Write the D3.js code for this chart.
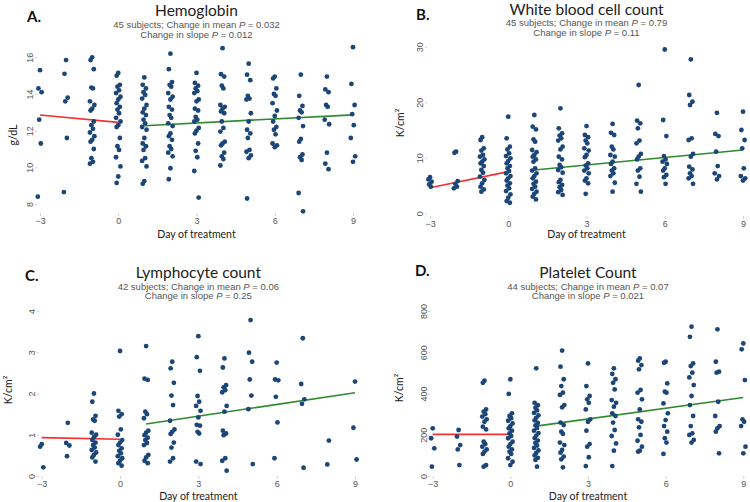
<!DOCTYPE html>
<html>
<head>
<meta charset="utf-8">
<script src="https://cdn.jsdelivr.net/npm/d3@7"></script>
<style>
  body { margin: 0; background: #fff; }
  svg { display: block; }
  .tick text { font-family: "Liberation Sans", Arial, sans-serif; font-size: 9px; fill: #555; }
  .tick line { stroke: #d0d0d0; }
</style>
</head>
<body>
<div id="chart"></div>
<script>
// Days on the x-axis, one column of dots per day
var days = [-3, -2, -1, 0, 1, 2, 3, 4, 5, 6, 7, 8, 9];
var dayTicks = [-3, 0, 3, 6, 9];

// Values per day
var hemoglobin = [
    [15.3, 14.3, 14.1, 12.6, 11.3, 8.4],
    [15.85, 15.1, 13.8, 13.6, 11.6, 8.65],
    [16.0, 15.85, 15.35, 14.35, 14.3, 13.6, 13.4, 13.2, 13.1, 12.5, 12.3, 12.1, 11.9, 11.7, 11.5, 11.4, 11.0, 10.5, 10.3, 10.2],
    [15.15, 15.0, 14.5, 14.4, 14.2, 14.05, 13.85, 13.7, 13.5, 13.3, 13.15, 12.95, 12.7, 12.5, 12.3, 12.2, 11.6, 11.15, 10.95, 10.55, 10.05, 9.5, 9.15],
    [14.9, 14.5, 14.3, 14.1, 13.95, 13.75, 13.4, 13.2, 13.0, 12.85, 12.6, 12.4, 12.2, 12.05, 11.6, 11.3, 11.15, 10.95, 10.5, 10.35, 10.05, 9.25, 9.1],
    [16.2, 15.35, 14.65, 14.5, 14.4, 14.05, 13.85, 13.7, 13.3, 13.15, 12.85, 12.7, 12.4, 12.25, 11.85, 11.7, 11.5, 11.15, 11.0, 10.8, 10.6, 9.95, 9.35],
    [15.15, 14.6, 14.45, 14.3, 14.15, 14.05, 13.7, 13.6, 13.2, 13.1, 12.75, 12.6, 12.5, 12.15, 12.0, 11.85, 11.3, 10.9, 10.55, 9.8, 8.35],
    [16.5, 15.08, 14.95, 14.45, 14.3, 13.4, 13.3, 13.2, 13.05, 12.95, 12.5, 12.15, 11.95, 11.4, 11.3, 11.2, 10.8, 10.6, 10.45, 10.1],
    [15.65, 15.05, 14.75, 13.9, 13.75, 13.7, 12.95, 12.5, 12.05, 11.85, 11.6, 10.95, 10.85, 10.65, 10.5, 8.3],
    [14.95, 14.85, 14.3, 14.0, 13.9, 13.5, 13.1, 12.8, 12.5, 12.2, 12.05, 11.8, 11.3, 11.2, 11.1],
    [15.05, 13.9, 13.35, 13.1, 13.0, 12.7, 12.25, 11.55, 11.4, 10.7, 10.55, 10.4, 8.6, 7.6],
    [14.95, 14.25, 14.1, 13.4, 13.3, 12.6, 12.35, 10.8, 10.2, 9.9],
    [16.55, 14.55, 13.4, 12.9, 12.3, 11.6, 10.6, 10.3]
];

var whiteCells = [
    [6.5, 6.1, 5.7, 5.2, 4.8],
    [11.1, 10.9, 5.8, 5.3, 4.8, 4.5],
    [13.7, 13.2, 11.7, 11.3, 10.5, 10.2, 9.7, 9.3, 9.0, 8.5, 7.8, 7.3, 6.6, 6.0, 5.4, 4.8, 4.3, 3.9],
    [17.4, 13.5, 12.0, 11.5, 10.8, 10.3, 9.9, 9.4, 9.0, 8.5, 8.1, 7.6, 7.2, 6.7, 6.3, 5.9, 5.4, 5.0, 4.5, 4.0, 3.4, 2.8, 2.2, 1.9],
    [17.7, 15.6, 15.1, 13.3, 12.9, 11.4, 11.0, 10.5, 10.2, 9.7, 9.3, 8.1, 7.7, 7.2, 6.7, 6.3, 5.7, 5.3, 4.8, 4.4, 3.9, 3.5, 3.0, 2.5],
    [18.9, 15.3, 14.4, 14.0, 13.5, 13.1, 12.0, 11.5, 10.2, 9.7, 8.7, 8.3, 7.8, 7.3, 6.0, 5.6, 5.1, 4.7, 4.2, 3.8, 3.3],
    [15.7, 14.1, 13.7, 13.1, 12.6, 11.7, 11.3, 10.5, 10.1, 9.0, 8.6, 8.1, 7.7, 7.2, 6.3, 5.9, 5.4, 3.5],
    [16.1, 14.5, 14.1, 12.0, 11.5, 10.5, 10.2, 9.3, 8.9, 8.1, 7.7, 7.2, 6.7, 5.5, 3.9],
    [23.1, 16.7, 16.2, 15.3, 13.1, 12.6, 10.7, 10.2, 9.7, 8.1, 7.7, 6.6, 5.3, 3.9],
    [29.5, 16.8, 13.9, 10.3, 9.7, 9.3, 8.9, 8.1, 7.7, 6.9, 6.5, 5.3],
    [27.7, 21.3, 20.1, 19.5, 13.5, 13.2, 10.7, 10.2, 8.4, 7.9, 7.2, 6.7, 6.3, 5.3],
    [18.1, 14.3, 13.9, 11.1, 8.5, 7.2, 6.7, 6.1],
    [18.3, 15.0, 13.2, 11.7, 8.1, 6.7, 6.3, 5.9]
];

var lymphocytes = [
    [0.77, 0.71, 0.21],
    [1.29, 0.8, 0.74, 0.48],
    [2.0, 1.8, 1.46, 1.37, 1.34, 1.05, 1.0, 0.94, 0.87, 0.81, 0.75, 0.69, 0.63, 0.57, 0.51, 0.45, 0.35],
    [3.03, 1.58, 1.5, 1.44, 1.13, 1.0, 0.87, 0.81, 0.75, 0.67, 0.61, 0.55, 0.48, 0.43, 0.37, 0.31, 0.25],
    [3.15, 2.36, 2.33, 1.56, 1.5, 1.4, 1.1, 1.05, 0.99, 0.93, 0.87, 0.8, 0.75, 0.51, 0.45, 0.37, 0.31],
    [2.77, 2.61, 2.26, 1.95, 1.72, 1.34, 1.13, 1.07, 1.02, 0.81, 0.69, 0.43, 0.35],
    [3.39, 2.88, 2.55, 1.94, 1.8, 1.7, 1.58, 1.42, 1.24, 1.22, 1.07, 1.03, 0.35, 0.29],
    [2.85, 2.63, 2.2, 2.15, 2.08, 2.03, 1.7, 1.56, 1.1, 1.03, 0.99, 0.43, 0.37, 0.13],
    [3.78, 2.99, 2.77, 2.34, 1.95, 1.62, 0.29],
    [2.75, 2.34, 2.32, 1.92, 1.3, 0.43],
    [3.34, 2.23, 1.86, 1.75, 0.2],
    [0.86, 0.28],
    [2.29, 1.17, 0.4]
];

var platelets = [
    [231, 183, 134, 45],
    [223, 191, 150, 129, 53],
    [462, 452, 323, 312, 300, 288, 275, 263, 239, 226, 166, 155, 142, 129, 118, 107, 53, 45],
    [469, 398, 304, 291, 280, 268, 255, 242, 231, 220, 207, 194, 183, 166, 155, 142, 129, 118, 107, 86, 69, 53],
    [522, 355, 343, 331, 318, 306, 294, 282, 270, 257, 245, 233, 220, 208, 196, 184, 172, 160, 148, 136, 124, 112, 100, 88, 78, 45],
    [608, 530, 469, 436, 404, 393, 344, 333, 259, 247, 215, 204, 162, 150, 126, 113, 94, 81, 42],
    [546, 436, 388, 372, 355, 323, 275, 263, 220, 155, 142, 91, 48],
    [522, 495, 469, 452, 420, 368, 355, 336, 304, 291, 259, 223, 194, 158, 123, 48],
    [570, 559, 538, 517, 417, 404, 372, 323, 275, 263, 236, 199, 171, 142, 123, 118],
    [554, 549, 449, 409, 404, 352, 304, 271, 242, 215, 183, 162, 107],
    [724, 675, 546, 533, 501, 478, 441, 388, 344, 291, 242, 207, 199, 175, 162],
    [711, 554, 506, 501, 360, 291, 242, 231, 215, 110],
    [643, 614, 465, 275, 263, 242, 142, 110]
];

// Fitted lines before (red) and after (green) treatment start
var hgbFitPre = [[-3, 12.85], [0, 12.45]];
var hgbFitPost = [[1, 12.27], [9, 12.86]];
var wbcFitPre = [[-3, 4.6], [0, 7.5]];
var wbcFitPost = [[1, 7.8], [9, 11.4]];
var lymFitPre = [[-3, 0.93], [0, 0.89]];
var lymFitPost = [[1, 1.26], [9, 2.02]];
var pltFitPre = [[-3, 202], [0, 202]];
var pltFitPost = [[1, 242], [9, 381]];

// Texts
var letters = ["A.", "B.", "C.", "D."];
var titles = ["Hemoglobin", "White blood cell count", "Lymphocyte count", "Platelet Count"];
var subjects = [45, 45, 42, 44];
var meanP = ["0.032", "0.79", "0.06", "0.07"];
var slopeP = ["0.012", "0.11", "0.25", "0.021"];
var yTitles = ["g/dL", "K/cm²", "K/cm²", "K/cm²"];
var yTickValues = [[8, 10, 12, 14, 16], [0, 10, 20, 30], [0, 1, 2, 3, 4], [0, 200, 400, 600, 800]];

var W = 750, H = 502;

var svg = d3.select("#chart").append("svg")
    .attr("width", W)
    .attr("height", H);

// panel layouts (pixels, local to each panel)
var panels = [
    { values: hemoglobin, pre: hgbFitPre, post: hgbFitPost, ox: 0, oy: 0,
      x0: 40, x1: 353, yDomain: [8, 16], yRange: [204, 57.3], axisX: 37, tickLabX: 32.5, axisY: 213,
      letterX: 27, letterY: 22, titleY: 16, sub1Y: 28, sub2Y: 38, yTitleX: 17, yTitleY: 135, xTitleY: 238 },
    { values: whiteCells, pre: wbcFitPre, post: wbcFitPost, ox: 375, oy: 0,
      x0: 55, x1: 368, yDomain: [0, 30], yRange: [213.3, 46.7], axisX: 52, tickLabX: 47.5, axisY: 216,
      letterX: 41, letterY: 20, titleY: 15, sub1Y: 26, sub2Y: 35.5, yTitleX: 29, yTitleY: 123, xTitleY: 238 },
    { values: lymphocytes, pre: lymFitPre, post: lymFitPost, ox: 0, oy: 250,
      x0: 41.7, x1: 355, yDomain: [0, 4], yRange: [226, 61], axisX: 39, tickLabX: 35, axisY: 226,
      letterX: 25, letterY: 31, titleY: 28, sub1Y: 39.5, sub2Y: 49, yTitleX: 12, yTitleY: 140, xTitleY: 250 },
    { values: platelets, pre: pltFitPre, post: pltFitPost, ox: 375, oy: 250,
      x0: 57.7, x1: 368.3, yDomain: [0, 800], yRange: [226, 61], axisX: 55, tickLabX: 51.5, axisY: 226,
      letterX: 40, letterY: 26, titleY: 27.5, sub1Y: 39.5, sub2Y: 49, yTitleX: 28, yTitleY: 138, xTitleY: 250 }
];

// small fixed horizontal spread so stacked dots stay visible
var spread = [0, -1.6, 1.6, -0.8, 0.8, -2.2, 2.2];

panels.forEach(function (p, k) {

    var g = svg.append("g")
        .attr("transform", "translate(" + p.ox + "," + p.oy + ")");

    var xScale = d3.scaleLinear().domain([-3, 9]).range([p.x0, p.x1]);
    var yScale = d3.scaleLinear().domain(p.yDomain).range(p.yRange);
    var cx = (p.x0 + p.x1) / 2;

    // x axis
    var xAxis = g.append("g")
        .attr("transform", "translate(0," + p.axisY + ")")
        .call(d3.axisBottom(xScale).tickValues(dayTicks).tickSize(3).tickPadding(2));
    xAxis.select(".domain").remove();

    // y axis with rotated labels
    var yAxis = g.append("g")
        .attr("transform", "translate(" + p.axisX + ",0)")
        .call(d3.axisLeft(yScale).tickValues(yTickValues[k]).tickSize(2).tickFormat(d3.format("d")));
    yAxis.select(".domain").remove();
    yAxis.selectAll("text")
        .attr("x", null)
        .attr("dy", null)
        .attr("text-anchor", "middle")
        .attr("transform", "translate(" + (p.tickLabX - p.axisX) + ",0) rotate(-90)");

    // regression lines
    var line = d3.line()
        .x(function (d) { return xScale(d[0]); })
        .y(function (d) { return yScale(d[1]); });

    g.append("path").datum(p.pre)
        .attr("d", line)
        .attr("fill", "none")
        .attr("stroke", "#f23030")
        .attr("stroke-width", 1.6);

    g.append("path").datum(p.post)
        .attr("d", line)
        .attr("fill", "none")
        .attr("stroke", "#2f8a2f")
        .attr("stroke-width", 1.6);

    // dots
    var pts = [];
    p.values.forEach(function (vals, i) {
        vals.forEach(function (v, j) {
            pts.push({ day: days[i], value: v, j: j });
        });
    });

    g.selectAll("circle.dot")
        .data(pts)
        .enter()
        .append("circle")
        .attr("class", "dot")
        .attr("cx", function (d) { return xScale(d.day) + spread[d.j % spread.length]; })
        .attr("cy", function (d) { return yScale(d.value); })
        .attr("r", 2.4)
        .attr("fill", "#1b4677");

    // panel letter
    g.append("text")
        .attr("x", p.letterX)
        .attr("y", p.letterY)
        .style("font-family", "Lato, 'Open Sans', sans-serif")
        .style("font-weight", "bold")
        .style("font-size", "15px")
        .style("fill", "#111")
        .text(letters[k]);

    // title
    g.append("text")
        .attr("x", cx)
        .attr("y", p.titleY)
        .attr("text-anchor", "middle")
        .style("font-family", "Lato, 'Open Sans', sans-serif")
        .style("font-size", "15.5px")
        .style("fill", "#222")
        .text(titles[k]);

    // subtitle lines
    var s1 = g.append("text")
        .attr("x", cx)
        .attr("y", p.sub1Y)
        .attr("text-anchor", "middle")
        .style("font-family", "'Liberation Sans', Arial, sans-serif")
        .style("font-size", "9.5px")
        .style("fill", "#555");
    s1.append("tspan").text(subjects[k] + " subjects; Change in mean ");
    s1.append("tspan").style("font-style", "italic").text("P");
    s1.append("tspan").text(" = " + meanP[k]);

    var s2 = g.append("text")
        .attr("x", cx)
        .attr("y", p.sub2Y)
        .attr("text-anchor", "middle")
        .style("font-family", "'Liberation Sans', Arial, sans-serif")
        .style("font-size", "9.5px")
        .style("fill", "#555");
    s2.append("tspan").text("Change in slope ");
    s2.append("tspan").style("font-style", "italic").text("P");
    s2.append("tspan").text(" = " + slopeP[k]);

    // axis titles
    g.append("text")
        .attr("transform", "translate(" + p.yTitleX + "," + p.yTitleY + ") rotate(-90)")
        .attr("text-anchor", "middle")
        .style("font-family", "Lato, 'Open Sans', sans-serif")
        .style("font-size", "10.5px")
        .style("fill", "#222")
        .text(yTitles[k]);

    g.append("text")
        .attr("x", cx)
        .attr("y", p.xTitleY)
        .attr("text-anchor", "middle")
        .style("font-family", "Lato, 'Open Sans', sans-serif")
        .style("font-size", "10.5px")
        .style("fill", "#222")
        .text("Day of treatment");
});
</script>
</body>
</html>
